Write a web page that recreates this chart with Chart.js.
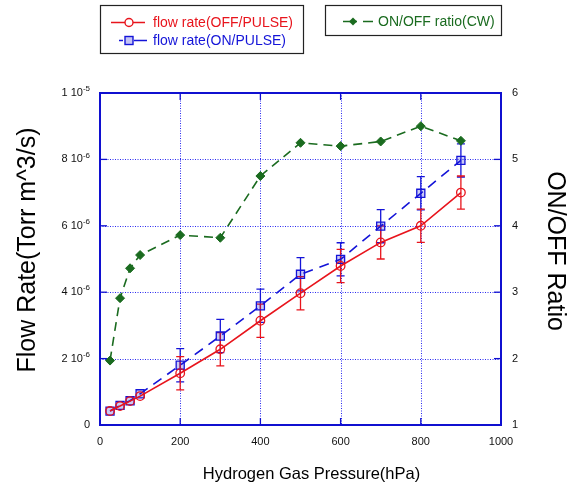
<!DOCTYPE html>
<html><head><meta charset="utf-8">
<script src="https://cdn.jsdelivr.net/npm/chart.js@4/dist/chart.umd.min.js"></script>
<style>html,body{margin:0;padding:0;background:#fff}canvas{display:block}</style>
</head><body>
<canvas id="c" width="577" height="484"></canvas>
<script>
// ---- data ----
const pressure = [25, 50, 75, 100, 200, 300, 400, 500, 600, 700, 800, 900];
const flowOff  = [0.42e-6, 0.57e-6, 0.72e-6, 0.87e-6, 1.56e-6, 2.28e-6, 3.14e-6, 3.97e-6, 4.79e-6, 5.50e-6, 6.00e-6, 7.00e-6];
const flowOn   = [0.42e-6, 0.59e-6, 0.73e-6, 0.94e-6, 1.80e-6, 2.68e-6, 3.59e-6, 4.54e-6, 4.99e-6, 5.99e-6, 6.98e-6, 7.97e-6];
const errOff   = [0, 0, 0, 0, 0.5e-6, 0.5e-6, 0.5e-6, 0.5e-6, 0.5e-6, 0.5e-6, 0.5e-6, 0.5e-6];
const errOn    = [0, 0, 0, 0, 0.5e-6, 0.5e-6, 0.5e-6, 0.5e-6, 0.5e-6, 0.5e-6, 0.5e-6, 0.5e-6];
const ratio    = [1.97, 2.91, 3.36, 3.56, 3.86, 3.82, 4.75, 5.25, 5.20, 5.27, 5.50, 5.28];

const xTicks  = [0, 200, 400, 600, 800, 1000];
const xLabels = ['0', '200', '400', '600', '800', '1000'];
const yTicks  = [0, 2e-6, 4e-6, 6e-6, 8e-6, 1e-5];
const yMant   = ['0', '2 10', '4 10', '6 10', '8 10', '1 10'];
const yExp    = ['', '-6', '-6', '-6', '-6', '-5'];
const y2Ticks = [1, 2, 3, 4, 5, 6];
const y2Labels = ['1', '2', '3', '4', '5', '6'];

const labels = {
  off: 'flow rate(OFF/PULSE)',
  on: 'flow rate(ON/PULSE)',
  ratio: 'ON/OFF ratio(CW)',
  x: 'Hydrogen Gas Pressure(hPa)',
  y: 'Flow Rate(Torr m^3/s)',
  y2: 'ON/OFF Ratio'
};

const RED = '#e8141c', BLUE = '#1414d8', GREEN = '#1a6b1f', AXIS = '#1010d0';
const FONT = '"Liberation Sans", Arial, Helvetica, sans-serif';
const pts = (ys) => pressure.map((x, i) => ({x, y: ys[i]}));

const deco = {
  id: 'deco',
  beforeDatasetsDraw(chart) {
    const {ctx, chartArea: a, scales: {x, y, y2}} = chart;
    ctx.save();
    // dotted grid
    ctx.strokeStyle = '#2a2af0';
    ctx.lineWidth = 1;
    ctx.setLineDash([1, 1.5]);
    xTicks.slice(1, -1).forEach(v => {
      const px = Math.round(x.getPixelForValue(v)) + 0.5;
      ctx.beginPath(); ctx.moveTo(px, a.top); ctx.lineTo(px, a.bottom); ctx.stroke();
    });
    yTicks.slice(1, -1).forEach(v => {
      const py = Math.round(y.getPixelForValue(v)) + 0.5;
      ctx.beginPath(); ctx.moveTo(a.left, py); ctx.lineTo(a.right, py); ctx.stroke();
    });
    ctx.setLineDash([]);
    // error bars
    const drawErr = (vals, errs, color) => {
      ctx.strokeStyle = color; ctx.lineWidth = 1.3;
      vals.forEach((v, i) => {
        if (!errs[i]) return;
        const px = x.getPixelForValue(pressure[i]);
        const t = y.getPixelForValue(v + errs[i]);
        const b = y.getPixelForValue(v - errs[i]);
        ctx.beginPath();
        ctx.moveTo(px, t); ctx.lineTo(px, b);
        ctx.moveTo(px - 4, t); ctx.lineTo(px + 4, t);
        ctx.moveTo(px - 4, b); ctx.lineTo(px + 4, b);
        ctx.stroke();
      });
    };
    drawErr(flowOn, errOn, BLUE);
    drawErr(flowOff, errOff, RED);
    ctx.restore();
  },
  afterDraw(chart) {
    const {ctx, chartArea: a, scales: {x, y, y2}} = chart;
    ctx.save();
    // frame
    ctx.strokeStyle = AXIS; ctx.lineWidth = 2;
    ctx.strokeRect(a.left, a.top, a.right - a.left, a.bottom - a.top);
    // tick marks (inside)
    ctx.lineWidth = 1.3;
    const TL = 7;
    xTicks.forEach(v => {
      const px = x.getPixelForValue(v);
      ctx.beginPath();
      ctx.moveTo(px, a.bottom); ctx.lineTo(px, a.bottom - TL);
      ctx.moveTo(px, a.top); ctx.lineTo(px, a.top + TL);
      ctx.stroke();
    });
    yTicks.forEach(v => {
      const py = y.getPixelForValue(v);
      ctx.beginPath(); ctx.moveTo(a.left, py); ctx.lineTo(a.left + TL, py); ctx.stroke();
    });
    y2Ticks.forEach(v => {
      const py = y2.getPixelForValue(v);
      ctx.beginPath(); ctx.moveTo(a.right, py); ctx.lineTo(a.right - TL, py); ctx.stroke();
    });
    // tick labels
    ctx.fillStyle = '#111';
    ctx.textBaseline = 'middle';
    ctx.font = '11px ' + FONT;
    ctx.textAlign = 'center';
    xTicks.forEach((v, i) => ctx.fillText(xLabels[i], x.getPixelForValue(v), a.bottom + 17));
    ctx.textAlign = 'left';
    y2Ticks.forEach((v, i) => ctx.fillText(y2Labels[i], a.right + 11, y2.getPixelForValue(v)));
    yTicks.forEach((v, i) => {
      const py = y.getPixelForValue(v);
      const right = a.left - 10;
      ctx.font = '8px ' + FONT;
      const we = ctx.measureText(yExp[i]).width;
      ctx.font = '11px ' + FONT;
      const wm = ctx.measureText(yMant[i]).width;
      ctx.fillText(yMant[i], right - we - wm, py);
      if (yExp[i]) { ctx.font = '8px ' + FONT; ctx.fillText(yExp[i], right - we, py - 4); }
    });
    // axis titles
    ctx.fillStyle = '#000';
    ctx.textBaseline = 'alphabetic';
    ctx.textAlign = 'center';
    ctx.font = '16.5px ' + FONT;
    ctx.fillText(labels.x, (a.left + a.right) / 2 + 11, 479);
    ctx.font = '25px ' + FONT;
    ctx.save(); ctx.translate(35, 250); ctx.rotate(-Math.PI / 2); ctx.fillText(labels.y, 0, 0); ctx.restore();
    ctx.save(); ctx.translate(548, 251); ctx.rotate(Math.PI / 2); ctx.fillText(labels.y2, 0, 0); ctx.restore();

    // legends
    ctx.strokeStyle = '#222'; ctx.lineWidth = 1.2;
    ctx.strokeRect(100.5, 5.5, 203, 48);
    ctx.strokeRect(325.5, 5.5, 176, 30);
    ctx.font = '14px ' + FONT;
    ctx.textAlign = 'left'; ctx.textBaseline = 'middle';
    // red
    ctx.strokeStyle = RED; ctx.lineWidth = 1.4;
    ctx.beginPath(); ctx.moveTo(111, 22.5); ctx.lineTo(145, 22.5); ctx.stroke();
    ctx.fillStyle = '#fff';
    ctx.beginPath(); ctx.arc(129, 22.5, 4, 0, Math.PI * 2); ctx.fill(); ctx.stroke();
    ctx.fillStyle = RED; ctx.fillText(labels.off, 153, 23);
    // blue
    ctx.strokeStyle = BLUE;
    ctx.beginPath(); ctx.moveTo(119, 40.5); ctx.lineTo(123, 40.5); ctx.moveTo(134, 40.5); ctx.lineTo(147, 40.5); ctx.stroke();
    ctx.fillStyle = 'rgba(20,20,216,0.25)';
    ctx.fillRect(125, 36.5, 8, 8); ctx.strokeRect(125, 36.5, 8, 8);
    ctx.fillStyle = BLUE; ctx.fillText(labels.on, 153, 41);
    // green
    ctx.strokeStyle = GREEN;
    ctx.beginPath(); ctx.moveTo(343, 21.5); ctx.lineTo(357, 21.5); ctx.moveTo(363, 21.5); ctx.lineTo(373, 21.5); ctx.stroke();
    ctx.fillStyle = GREEN;
    ctx.beginPath(); ctx.moveTo(353, 17.5); ctx.lineTo(357, 21.5); ctx.lineTo(353, 25.5); ctx.lineTo(349, 21.5); ctx.closePath(); ctx.fill();
    ctx.fillText(labels.ratio, 378, 22);
    ctx.restore();
  }
};

new Chart(document.getElementById('c'), {
  type: 'line',
  data: {
    datasets: [
      { label: labels.on, data: pts(flowOn), yAxisID: 'y', borderColor: BLUE, borderWidth: 1.6,
        borderDash: [10, 7], pointStyle: 'rect', pointRadius: 5.7, pointBorderWidth: 1.3,
        pointBackgroundColor: 'rgba(20,20,216,0.22)', pointBorderColor: BLUE, tension: 0, order: 3 },
      { label: labels.off, data: pts(flowOff), yAxisID: 'y', borderColor: RED, borderWidth: 1.6,
        pointStyle: 'circle', pointRadius: 4.3, pointBorderWidth: 1.3,
        pointBackgroundColor: 'rgba(0,0,0,0)', pointBorderColor: RED, tension: 0, order: 2 },
      { label: labels.ratio, data: pts(ratio), yAxisID: 'y2', borderColor: GREEN, borderWidth: 1.6,
        borderDash: [9, 6], pointStyle: 'rectRot', pointRadius: 4.5, pointBorderWidth: 1,
        pointBackgroundColor: GREEN, pointBorderColor: GREEN, tension: 0, order: 1 }
    ]
  },
  options: {
    responsive: false, animation: false, devicePixelRatio: 1,
    layout: { padding: { left: 100, right: 76, top: 93, bottom: 59 } },
    plugins: { legend: { display: false }, tooltip: { enabled: false } },
    scales: {
      x: { type: 'linear', min: 0, max: 1000, display: false },
      y: { type: 'linear', min: 0, max: 1e-5, display: false },
      y2: { type: 'linear', position: 'right', min: 1, max: 6, display: false }
    }
  },
  plugins: [deco]
});
</script>
</body></html>
